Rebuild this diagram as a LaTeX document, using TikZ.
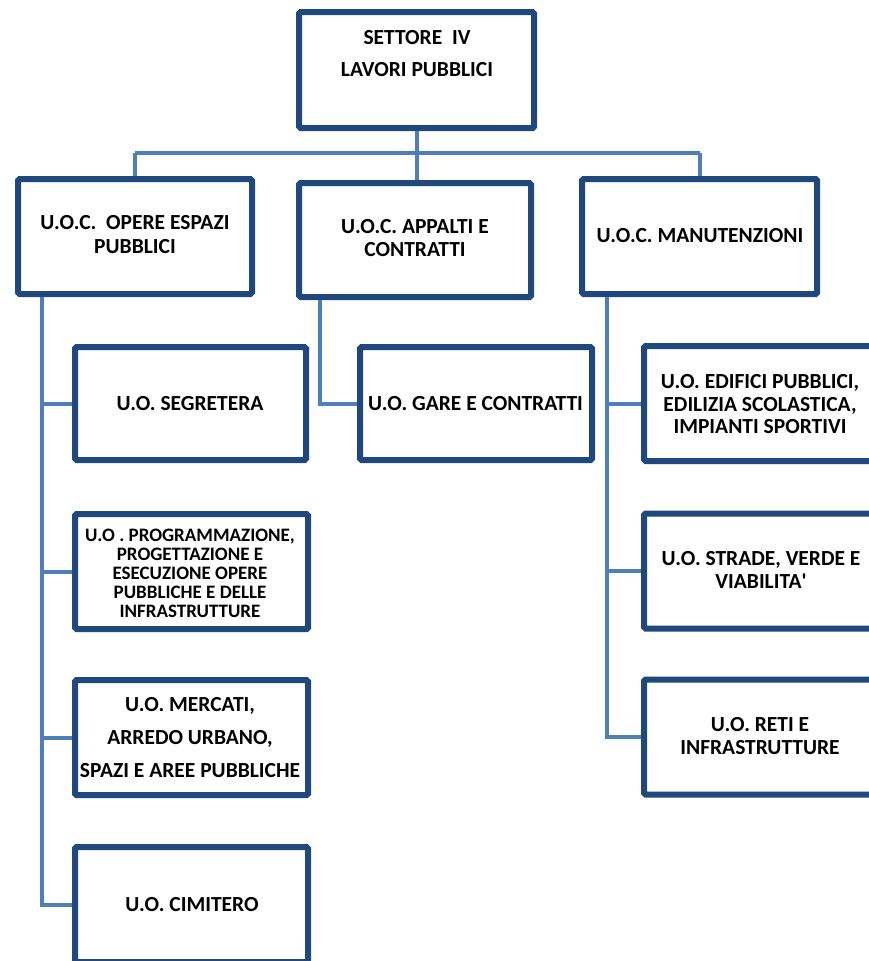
\documentclass[tikz,border=0pt]{standalone}
\usepackage{fontspec}
\setmainfont{Carlito}
\definecolor{boxblue}{RGB}{33,72,124}
\definecolor{linkblue}{RGB}{79,127,186}
\begin{document}
\begin{tikzpicture}[x=1pt,y=-1pt,
  unitbox/.style={draw=boxblue, line width=6pt, rounded corners=1.5pt, fill=white,
    inner sep=0pt, minimum width=234pt, minimum height=115pt},
  lbl/.style={font=\bfseries\fontsize{21.5}{#1}\selectfont, align=center, inner sep=0pt},
  lbl/.default=23,
  small/.style={font=\bfseries\fontsize{19}{19}\selectfont, align=center, inner sep=0pt},
  link/.style={draw=linkblue, line width=4pt}]
\useasboundingbox (0,0) rectangle (869,961);
\clip (0,0) rectangle (869,961);

% boxes
\node[unitbox, minimum width=235pt, minimum height=116pt] (top) at (416.5,70) {};
\node[unitbox] (opere) at (135,236.5) {};
\node[unitbox, minimum width=232pt, minimum height=114pt] (appalti) at (415,240) {};
\node[unitbox, minimum width=235pt] (manut) at (699.5,236.5) {};
\node[unitbox, minimum width=231pt, minimum height=113pt] (segr) at (190.5,403.5) {};
\node[unitbox, minimum width=233pt] (progr) at (191.5,571.5) {};
\node[unitbox, minimum width=233pt] (merc) at (191.5,737.5) {};
\node[unitbox, minimum width=233pt] (cimit) at (191.5,904.5) {};
\node[unitbox, minimum width=232pt, minimum height=113pt] (gare) at (476,403.5) {};
\node[unitbox, minimum width=233pt] (edif) at (760.5,403.5) {};
\node[unitbox, minimum width=233pt] (strade) at (760.5,571) {};
\node[unitbox, minimum width=233pt] (reti) at (760.5,737) {};

% labels
\node[lbl=32] (ttop) at (417,54) {SETTORE\ \ IV\\LAVORI PUBBLICI};
\node[lbl=24] (topere) at (135,235) {U.O.C.\ \ OPERE ESPAZI\\PUBBLICI};
\node[lbl=23] (tappalti) at (415,238.5) {U.O.C. APPALTI E\\CONTRATTI};
\node[lbl] (tmanut) at (700,236) {U.O.C. MANUTENZIONI};
\node[lbl] (tsegr) at (190,404) {U.O. SEGRETERA};
\node[lbl] (tgare) at (475.5,404) {U.O. GARE E CONTRATTI};
\node[lbl=22.5] (tedif) at (760,404.5) {U.O. EDIFICI PUBBLICI,\\EDILIZIA SCOLASTICA,\\IMPIANTI SPORTIVI};
\node[small] (tprogr) at (190,573) {U.O . PROGRAMMAZIONE,\\PROGETTAZIONE E\\ESECUZIONE OPERE\\PUBBLICHE E DELLE\\INFRASTRUTTURE};
\node[lbl=23] (tstrade) at (761,569.5) {U.O. STRADE, VERDE E\\VIABILITA\textquotesingle};
\node[lbl=33] (tmerc) at (190,738) {U.O. MERCATI,\\ARREDO URBANO,\\SPAZI E AREE PUBBLICHE};
\node[lbl=23] (treti) at (760,736.5) {U.O. RETI E\\INFRASTRUTTURE};
\node[lbl] (tcimit) at (192,905) {U.O. CIMITERO};

% bus below the sector box
\coordinate (busL) at (135,153);
\coordinate (busM) at (417,153);
\coordinate (busR) at (700,153);
\draw[link] (top.south -| busM) -- (busM);
\draw[link] (busL) -- (busR);
\draw[link] (busL) -- (opere.north -| busL);
\draw[link] (busM) -- (appalti.north -| busM);
\draw[link] (busR) -- (manut.north -| busR);

% left spine
\coordinate (spineL) at (42,294);
\draw[link] (opere.south -| spineL) |- (cimit.west);
\draw[link] (segr.west -| spineL) -- (segr.west);
\draw[link] (progr.west -| spineL) -- (progr.west);
\draw[link] (merc.west -| spineL) -- (merc.west);

% middle branch
\coordinate (spineM) at (320,300);
\draw[link] (appalti.south -| spineM) |- (gare.west);

% right spine
\coordinate (spineR) at (607,297);
\draw[link] (manut.south -| spineR) |- (reti.west);
\draw[link] (edif.west -| spineR) -- (edif.west);
\draw[link] (strade.west -| spineR) -- (strade.west);
\end{tikzpicture}
\end{document}
